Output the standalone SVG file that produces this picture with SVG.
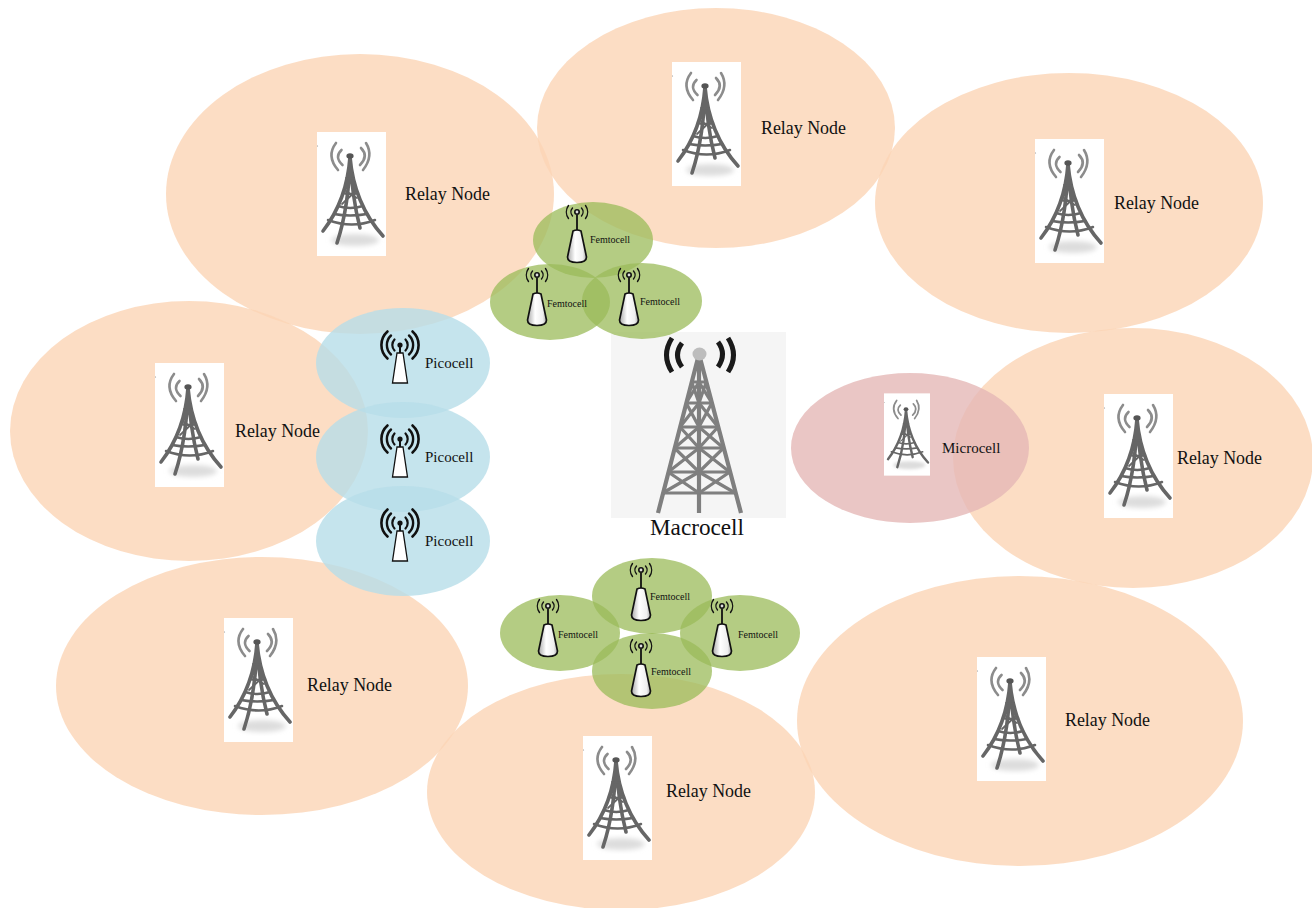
<svg xmlns="http://www.w3.org/2000/svg" width="1312" height="908" viewBox="0 0 1312 908">
<style>
text{font-family:"Liberation Serif","Times New Roman",serif;fill:#111}
.relay{fill:#fbd5b5;fill-opacity:.8}
.micro{fill:#e5b8b7;fill-opacity:.8}
.pico{fill:#b7dde8;fill-opacity:.8}
.femto{fill:#9bbb59;fill-opacity:.75}
.rl{font-size:17.9px}
.pl{font-size:15px}
.fl{font-size:10px}
.ml{font-size:23.2px}
</style>
<defs>
<filter id="soft" x="-5%" y="-5%" width="110%" height="110%"><feGaussianBlur stdDeviation=".45"/></filter>
<filter id="softer" x="-30%" y="-30%" width="160%" height="160%"><feGaussianBlur stdDeviation="2.500"/></filter>
<linearGradient id="body" x1="0" x2="1" y1="0" y2="0"><stop offset="0" stop-color="#a8a8a8"/><stop offset=".4" stop-color="#fff"/><stop offset=".8" stop-color="#eee"/><stop offset="1" stop-color="#aaa"/></linearGradient>
<symbol id="relayTower" viewBox="0 0 69 124" width="69" height="124">
<rect width="69" height="124" fill="#fff"/>
<ellipse cx="38" cy="108" rx="24" ry="6" fill="#ddd" filter="url(#softer)"/>
<circle cx="0.500" cy="14" r=".6" fill="#999"/>
<g filter="url(#soft)">
<g fill="none" stroke="#8c8c8c" stroke-linecap="round" stroke-width="2.600">
<path d="M19 11Q9 24 21 38M24.500 18Q17 25 25.500 33M49 11Q57 24 46 38M44 16Q52 24 43 33"/>
</g>
<g fill="none" stroke="#666" stroke-linecap="round">
<path d="M33 25Q30 68 6 99M33 25Q32 75 20 111M33 25Q37 72 66 104M33 25Q35 65 43 96" stroke-width="3.600"/>
<path d="M26 61Q34 63 41 61M21 74Q33 78 46 74M11 88Q35 97 58 88M17 82Q33 85 50 82" stroke-width="2.500"/>
<path d="M29 46Q33 48 37 46M27 58L40 66M40 58L25 72" stroke-width="1.800"/>
</g>
<ellipse cx="33" cy="24" rx="3.600" ry="2.800" fill="#555"/>
</g>
</symbol>
<symbol id="microTower" viewBox="0 0 69 124" width="46" height="83"><use href="#relayTower" width="69" height="124"/></symbol>
<g id="picoIcon">
<g fill="none" stroke="#111" stroke-linecap="round">
<path d="M-5.500-5.500A8 8 0 0 0-5.500 5.500M5.500-5.500A8 8 0 0 1 5.500 5.500" stroke-width="2.200"/>
<path d="M-9-9.500A13 13 0 0 0-9 9.500M9-9.500A13 13 0 0 1 9 9.500" stroke-width="2.400"/>
<path d="M-12.500-13.500A18 18 0 0 0-12.500 13.500M12.500-13.500A18 18 0 0 1 12.500 13.500" stroke-width="2.600"/>
</g>
<circle r="2.600" fill="#111"/>
<path d="M0 2V8" stroke="#111" stroke-width="2"/>
<path d="M-3 8H3L7.500 38H-7.500Z" fill="#fff" stroke="#111" stroke-width="1.300"/>
</g>
<g id="femtoIcon">
<g fill="none" stroke="#111" stroke-width="1.400" stroke-linecap="round">
<path d="M-4.500-4A6 6 0 0 0-4.500 4M4.500-4A6 6 0 0 1 4.500 4"/>
<path d="M-8.500-6.500A11 11 0 0 0-8.500 6.500M8.500-6.500A11 11 0 0 1 8.500 6.500"/>
</g>
<circle r="2.200" fill="#ddd" stroke="#111" stroke-width="1.600"/>
<path d="M0 3V19" stroke="#111" stroke-width="1.800"/>
<path d="M-4 19Q0 17 4 19L9.500 45Q9.500 50.500 0 50.500Q-9.500 50.500-9.500 45Z" fill="url(#body)" stroke="#111" stroke-width="1.700"/>
</g>
</defs>
<rect width="1312" height="908" fill="#fff"/>
<g id="relay-1"><ellipse class="relay" cx="360" cy="194" rx="194" ry="140"/><use href="#relayTower" x="317" y="132"/><text class="rl" x="405" y="200">Relay Node</text></g>
<g id="relay-2"><ellipse class="relay" cx="716" cy="128" rx="179" ry="120"/><use href="#relayTower" x="672" y="62"/><text class="rl" x="761" y="134">Relay Node</text></g>
<g id="relay-3"><ellipse class="relay" cx="1069" cy="203" rx="194" ry="130"/><use href="#relayTower" x="1035" y="139"/><text class="rl" x="1114" y="209">Relay Node</text></g>
<g id="relay-4"><ellipse class="relay" cx="189" cy="431" rx="179" ry="130"/><use href="#relayTower" x="155" y="363"/><text class="rl" x="235" y="437">Relay Node</text></g>
<g id="relay-5"><ellipse class="relay" cx="1133" cy="458" rx="180" ry="130"/><use href="#relayTower" x="1104" y="394"/><text class="rl" x="1177" y="464">Relay Node</text></g>
<g id="relay-6"><ellipse class="relay" cx="262" cy="686" rx="206" ry="129"/><use href="#relayTower" x="224" y="618"/><text class="rl" x="307" y="691">Relay Node</text></g>
<g id="relay-7"><ellipse class="relay" cx="621" cy="792" rx="194" ry="118"/><use href="#relayTower" x="583" y="736"/><text class="rl" x="666" y="797">Relay Node</text></g>
<g id="relay-8"><ellipse class="relay" cx="1020" cy="721" rx="223" ry="145"/><use href="#relayTower" x="977" y="657"/><text class="rl" x="1065" y="726">Relay Node</text></g>
<g id="microcell"><ellipse class="micro" cx="910" cy="448" rx="119" ry="75"/><use href="#microTower" x="884" y="393"/><text class="pl" x="942" y="453">Microcell</text></g>
<g id="pico-1"><ellipse class="pico" cx="403" cy="363" rx="87" ry="55"/><use href="#picoIcon" x="400" y="345"/><text class="pl" x="425" y="368">Picocell</text></g>
<g id="pico-2"><ellipse class="pico" cx="403" cy="457" rx="87" ry="55"/><use href="#picoIcon" x="400" y="439"/><text class="pl" x="425" y="462">Picocell</text></g>
<g id="pico-3"><ellipse class="pico" cx="403" cy="541" rx="87" ry="55"/><use href="#picoIcon" x="400" y="523"/><text class="pl" x="425" y="546">Picocell</text></g>
<g id="macrocell">
<rect x="611" y="332" width="175" height="186" fill="#f5f5f5"/>
<g fill="none" stroke="#7f7f7f" stroke-width="3.200" filter="url(#soft)">
<path d="M699 354L658 513M699 354L741 513M699 354V513" stroke-width="4.200"/>
<path d="M691.700 382H706.300M686.200 403H711.800M680 427H718M674.500 448H723.500M668.200 472H729.800M662.700 493H735.300"/>
<path d="M691.700 382L699 403M699 382L686.200 403M706.300 382L699 403M699 382L711.800 403"/>
<path d="M686.200 403L699 427M699 403L680 427M711.800 403L699 427M699 403L718 427"/>
<path d="M680 427L699 448M699 427L674.500 448M718 427L699 448M699 427L723.500 448"/>
<path d="M674.500 448L699 472M699 448L668.200 472M723.500 448L699 472M699 448L729.800 472"/>
<path d="M668.200 472L699 493M699 472L662.700 493M729.800 472L699 493M699 472L735.300 493"/>
</g>
<ellipse cx="699.500" cy="354" rx="7" ry="6.500" fill="#bdbdbd"/>
<g fill="none" stroke="#1a1a1a" stroke-width="5">
<path d="M672 338Q661 355 672 372M682 343Q673 355 682 367M728 338Q739 355 728 372M718 342Q727 354 718 367"/>
</g>
<text class="ml" x="650" y="535">Macrocell</text>
</g>
<g id="femto-1"><ellipse class="femto" cx="593" cy="240" rx="60" ry="38"/><use href="#femtoIcon" x="577" y="212"/></g>
<g id="femto-2"><ellipse class="femto" cx="550" cy="302" rx="60" ry="38"/><use href="#femtoIcon" x="537" y="275"/></g>
<g id="femto-3"><ellipse class="femto" cx="642" cy="301" rx="60" ry="38"/><use href="#femtoIcon" x="629" y="275"/></g>
<g id="femto-4"><ellipse class="femto" cx="652" cy="596" rx="60" ry="38"/><use href="#femtoIcon" x="641" y="570"/></g>
<g id="femto-5"><ellipse class="femto" cx="560" cy="633" rx="60" ry="38"/><use href="#femtoIcon" x="548" y="606"/></g>
<g id="femto-6"><ellipse class="femto" cx="740" cy="633" rx="60" ry="38"/><use href="#femtoIcon" x="722" y="606"/></g>
<g id="femto-7"><ellipse class="femto" cx="652" cy="671" rx="60" ry="38"/><use href="#femtoIcon" x="641" y="646"/></g>
<g id="femto-labels">
<text class="fl" x="590" y="243">Femtocell</text>
<text class="fl" x="547" y="307">Femtocell</text>
<text class="fl" x="640" y="305">Femtocell</text>
<text class="fl" x="650" y="600">Femtocell</text>
<text class="fl" x="558" y="638">Femtocell</text>
<text class="fl" x="738" y="638">Femtocell</text>
<text class="fl" x="651" y="675">Femtocell</text>
</g>
</svg>
